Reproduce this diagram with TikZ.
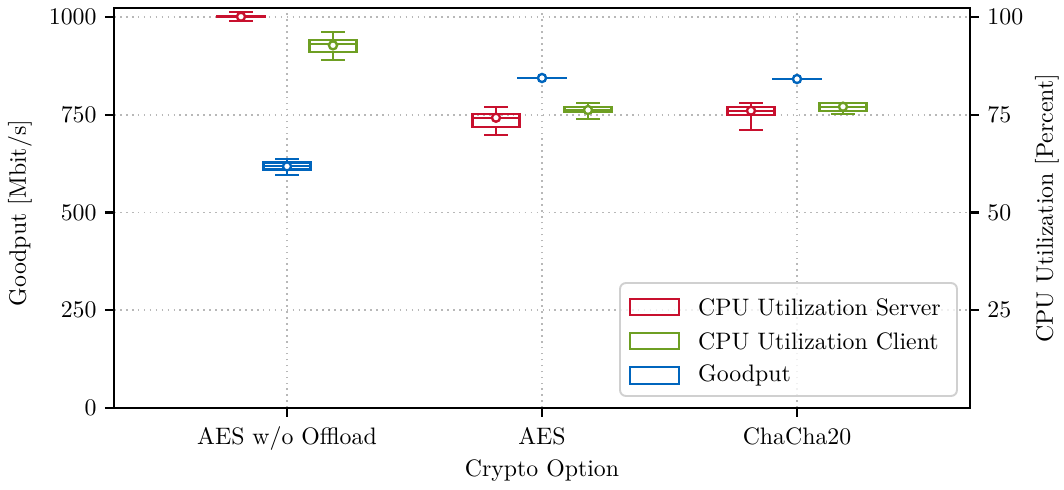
\documentclass[tikz,border=0pt]{standalone}
\usepackage{tikz}
\usetikzlibrary{positioning}
\definecolor{cpu-red}{HTML}{C8102E}
\definecolor{cpu-green}{HTML}{6E9F23}
\definecolor{gp-blue}{HTML}{0065BD}
\definecolor{grid-gray}{HTML}{B8B8B8}
\definecolor{legend-gray}{HTML}{D0D0D0}

% box at x: #1 x, #2 colour, #3 low, #4 q1, #5 median, #6 q3, #7 high, #8 mean
\newcommand{\cryptobox}[8]{%
  \draw[bx=#2] (#1-23.5,#4) rectangle (#1+23.5,#6)
    (#1-23.5,#5) -- (#1+23.5,#5)
    (#1,#4) -- (#1,#3) (#1-12,#3) -- (#1+12,#3)
    (#1,#6) -- (#1,#7) (#1-12,#7) -- (#1+12,#7);
  \node[meanmark=#2] at (#1,#8) {};
}

\begin{document}
\begin{tikzpicture}[
    x=0.42pt, y=0.16422pt,
    gridline/.style={grid-gray, line width=0.7pt, dash pattern=on 0.7pt off 1.8pt},
    bx/.style={draw=#1, line width=0.9pt},
    meanmark/.style={circle, draw=#1, fill=white, line width=1pt,
                     inner sep=0pt, minimum size=3.4pt},
    legbox/.style={draw=#1, line width=0.9pt},
    ticklabel/.style={inner sep=0pt},
]
    \useasboundingbox (-114,-207.2) rectangle (950,1043.5);

    % grid
    \foreach \v in {250,500,750,1000}
        \draw[gridline] (0,\v) -- (856,\v);
    \foreach \c in {173,428,683}
        \draw[gridline] (\c,0) -- (\c,1022);

    % AES w/o Offload
    \cryptobox{127}{cpu-red}{990.5}{999}{1000.8}{1002}{1012}{1000.8}
    \cryptobox{219}{cpu-green}{890}{909.7}{930.2}{940.4}{960.9}{927.6}
    \cryptobox{173}{gp-blue}{596.7}{610}{620}{628}{636}{618}
    % AES
    \cryptobox{382}{cpu-red}{699}{719.5}{741}{751.2}{770.6}{742.5}
    \cryptobox{474}{cpu-green}{739.1}{757.8}{762}{770.6}{780.8}{762.1}
    \cryptobox{428}{gp-blue}{843}{843.5}{844}{844.5}{845}{844}
    % ChaCha20
    \cryptobox{637}{cpu-red}{710.2}{749.4}{760.4}{769.8}{780.8}{760.4}
    \cryptobox{729}{cpu-green}{751.2}{760.4}{770}{780.8}{780.8}{770.6}
    \cryptobox{683}{gp-blue}{840.5}{841}{841.4}{841.8}{842.3}{841.4}

    % legend
    \draw[legend-gray, fill=white, fill opacity=0.8, line width=0.8pt, rounded corners=2.5pt]
        (506,30.7) rectangle (843,319.7);
    \draw[legbox=cpu-red]   (515.7,237.1) rectangle (565,279.5);
    \draw[legbox=cpu-green] (515.7,150.2) rectangle (565,192.6);
    \draw[legbox=gp-blue]   (515.7,62.4)  rectangle (565,104.8);
    \node[anchor=west, inner sep=0pt] (lsrv) at (583.7,258.3) {CPU Utilization Server};
    \node[anchor=west, inner sep=0pt] (lcli) at (583.7,171.4) {CPU Utilization Client};
    \node[anchor=west, inner sep=0pt] (lgp)  at (583.7,83.6)  {Goodput};

    % frame and ticks
    \draw[line width=0.9pt] (0,0) rectangle (856,1022);
    \foreach \v in {0,250,500,750,1000} {
        \draw[line width=0.9pt] (-9,\v) -- (0,\v);
        \node[ticklabel, anchor=east] (yl\v) at (-17,\v) {\v};
    }
    \foreach \v/\p in {250/25,500/50,750/75,1000/100} {
        \draw[line width=0.9pt] (856,\v) -- (865,\v);
        \node[ticklabel, anchor=west] (yr\p) at (873,\v) {\p};
    }
    \foreach \c/\t [count=\i] in {173/{AES w/o Offload},428/AES,683/ChaCha20} {
        \draw[line width=0.9pt] (\c,0) -- (\c,-23);
        \node[ticklabel, anchor=base] (xl\i) at (\c,-94.6) {\t};
    }

    % axis titles
    \node[anchor=base] (xt) at (428,-174) {Crypto Option};
    \node[rotate=90] (ytl) at (-94,498.7) {Goodput [Mbit/s]};
    \node[rotate=90] (ytr) at (933,511) {CPU Utilization [Percent]};
\end{tikzpicture}
\end{document}
